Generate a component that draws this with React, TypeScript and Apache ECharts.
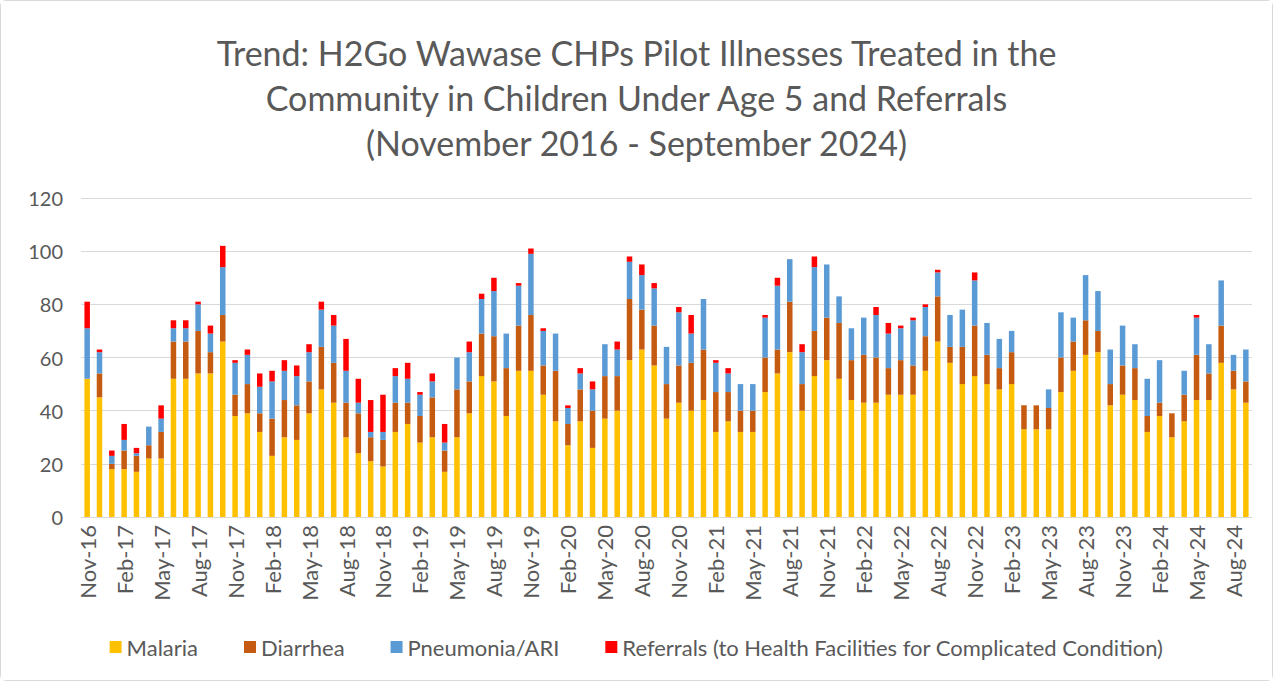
import React, { useEffect, useRef } from "react";
import * as echarts from "echarts";

const MONTHS = ["Jan", "Feb", "Mar", "Apr", "May", "Jun", "Jul", "Aug", "Sep", "Oct", "Nov", "Dec"];
const categories: string[] = [];
for (let i = 0; i < 95; i++) {
  const m = (10 + i) % 12;
  const y = 16 + Math.floor((10 + i) / 12);
  categories.push(`${MONTHS[m]}-${y}`);
}

const malaria = [
  52, 45, 18, 18, 17, 22, 22, 52, 52, 54, 54, 66,
  38, 39, 32, 23, 30, 29, 39, 48, 43, 30, 24, 21, 19,
  32, 35, 28, 30, 17, 30, 39, 53, 51, 38, 55, 55,
  46, 36, 27, 36, 26, 37, 40, 59, 63, 57, 37, 43,
  40, 44, 32, 36, 32, 32, 47, 54, 62, 40, 53, 59,
  52, 44, 43, 43, 46, 46, 46, 55, 66, 58, 50, 53,
  50, 48, 50, 33, 33, 33, 47, 55, 61, 62, 42, 46,
  44, 32, 38, 30, 36, 44, 44, 58, 48, 43,
];
const diarrhea = [
  0, 9, 2, 7, 6, 5, 10, 14, 14, 16, 8, 10,
  8, 11, 7, 14, 14, 13, 12, 16, 15, 13, 15, 9, 10,
  11, 8, 10, 15, 8, 18, 12, 16, 17, 18, 17, 21,
  11, 19, 8, 12, 14, 16, 13, 23, 15, 15, 13, 14,
  18, 19, 15, 11, 8, 8, 13, 9, 19, 10, 17, 16,
  21, 15, 18, 17, 10, 13, 11, 13, 17, 6, 14, 19,
  11, 8, 12, 9, 9, 8, 13, 11, 13, 8, 8, 11,
  12, 6, 5, 9, 10, 17, 10, 14, 7, 8,
];
const pneumonia = [
  19, 8, 3, 4, 1, 7, 5, 5, 5, 10, 7, 18,
  12, 11, 10, 14, 11, 11, 11, 14, 14, 12, 4, 2, 3,
  10, 9, 8, 6, 3, 12, 11, 13, 17, 13, 15, 23,
  13, 14, 6, 6, 8, 12, 10, 14, 13, 14, 14, 20,
  11, 19, 11, 7, 10, 10, 15, 24, 16, 12, 24, 20,
  10, 12, 14, 16, 13, 12, 17, 11, 9, 12, 14, 17,
  12, 11, 8, 0, 0, 7, 17, 9, 17, 15, 13, 15,
  9, 14, 16, 0, 9, 14, 11, 17, 6, 12,
];
const referrals = [
  10, 1, 2, 6, 2, 0, 5, 3, 3, 1, 3, 8,
  1, 2, 5, 4, 4, 4, 3, 3, 4, 12, 9, 12, 14,
  3, 6, 1, 3, 7, 0, 4, 2, 5, 0, 1, 2,
  1, 0, 1, 2, 3, 0, 3, 2, 4, 2, 0, 2,
  7, 0, 1, 2, 0, 0, 1, 3, 0, 3, 4, 0,
  0, 0, 0, 3, 4, 1, 1, 1, 1, 0, 0, 3,
  0, 0, 0, 0, 0, 0, 0, 0, 0, 0, 0, 0,
  0, 0, 0, 0, 0, 1, 0, 0, 0, 0,
];

const seriesNames = [
  "Malaria",
  "Diarrhea",
  "Pneumonia/ARI",
  "Referrals (to Health Facilities for Complicated Condition)",
];
const seriesColors = ["#FFC000", "#C55A11", "#5B9BD5", "#FF0000"];
const yTicks = [0, 20, 40, 60, 80, 100, 120];

const TEXT = "#595959";
const FONT = "Lato, 'Open Sans', sans-serif";

export default function App() {
  const ref = useRef<HTMLDivElement>(null);
  useEffect(() => {
    if (!ref.current) return;
    const chart = echarts.init(ref.current, undefined, { renderer: "svg" });
    const data = [malaria, diarrhea, pneumonia, referrals];
    chart.setOption({
      animation: false,
      backgroundColor: "#ffffff",
      title: {
        text: "Trend: H2Go Wawase CHPs Pilot Illnesses Treated in the\nCommunity in Children Under Age 5 and Referrals\n(November 2016 - September 2024)",
        left: "center",
        top: 24,
        textStyle: {
          fontFamily: FONT,
          fontSize: 34,
          fontWeight: "normal",
          color: TEXT,
          lineHeight: 45,
        },
      },
      legend: {
        top: 630,
        left: "center",
        itemWidth: 12,
        itemHeight: 12,
        itemGap: 46,
        icon: "rect",
        textStyle: { fontFamily: FONT, fontSize: 22, color: TEXT },
        data: seriesNames,
      },
      grid: { left: 80, right: 20, top: 197, bottom: 163, containLabel: false },
      xAxis: {
        type: "category",
        data: categories,
        boundaryGap: true,
        axisLine: { lineStyle: { color: "#d9d9d9", width: 1 } },
        axisTick: { interval: 2, length: 6, lineStyle: { color: "#d9d9d9" } },
        axisLabel: {
          interval: 2,
          rotate: 90,
          fontFamily: FONT,
          fontSize: 22,
          color: TEXT,
          margin: 8,
        },
      },
      yAxis: {
        type: "value",
        min: 0,
        max: yTicks[yTicks.length - 1],
        interval: yTicks[1] - yTicks[0],
        axisLine: { show: false },
        axisTick: { show: false },
        splitLine: { lineStyle: { color: "#d9d9d9", width: 1 } },
        axisLabel: { fontFamily: FONT, fontSize: 20, color: TEXT, margin: 18 },
      },
      series: seriesNames.map((name, i) => ({
        name,
        type: "bar",
        stack: "total",
        barWidth: 5.5,
        data: data[i],
        itemStyle: { color: seriesColors[i] },
      })),
    });
    return () => chart.dispose();
  }, []);
  return (
    <div
      ref={ref}
      style={{
        position: "fixed",
        left: 0,
        top: 0,
        width: 1273,
        height: 681,
        border: "1px solid #d9d9d9",
        borderRadius: 6,
        boxSizing: "border-box",
        background: "#fff",
      }}
    />
  );
}
